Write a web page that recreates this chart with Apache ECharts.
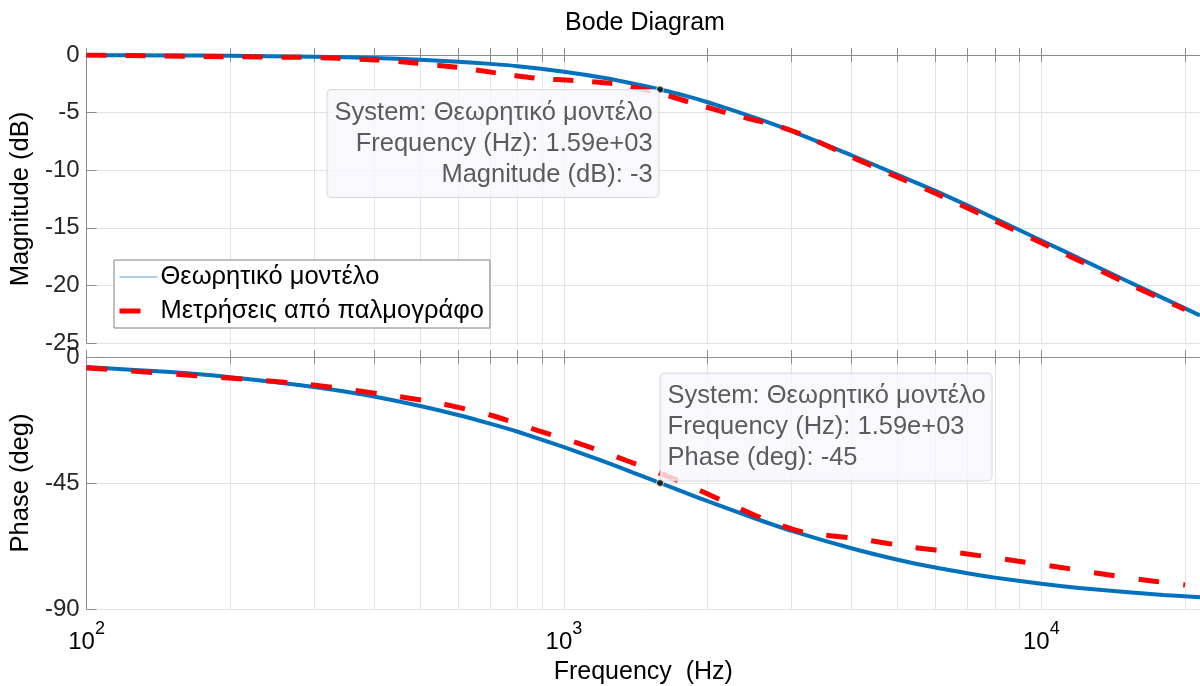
<!DOCTYPE html>
<html>
<head>
<meta charset="utf-8">
<title>Bode Diagram</title>
<script src="https://cdn.jsdelivr.net/npm/echarts@6/dist/echarts.min.js"></script>
<style>
  html, body { margin: 0; padding: 0; background: #fff; }
  #chart { width: 1200px; height: 686px; }
</style>
</head>
<body>
<div id="chart"></div>
<script>
// theoretical model
const freqModel = [100, 150, 200, 300, 400, 500, 600, 700, 800, 1000, 1200, 1400, 1590, 1800, 2000, 2500, 3000, 4000, 5000, 6000, 7000, 8000, 10000, 12000, 15000, 18000, 21500];
const magModel = [-0.02, -0.04, -0.07, -0.15, -0.27, -0.41, -0.58, -0.77, -0.97, -1.45, -1.95, -2.49, -3.0, -3.55, -4.1, -5.41, -6.6, -8.7, -10.4, -11.8, -13.05, -14.2, -16.1, -17.65, -19.55, -21.1, -22.6];
const phaseModel = [-3.6, -5.4, -7.2, -10.7, -14.1, -17.5, -20.7, -23.8, -26.7, -32.2, -37.0, -41.4, -45.0, -48.5, -51.5, -57.5, -62.1, -68.3, -72.4, -75.2, -77.2, -78.8, -81.0, -82.5, -83.9, -85.0, -85.8];

// oscilloscope measurements (red dashed)
const freqMeasMag = [100, 200, 277, 336, 407, 493, 598, 731, 879, 1066, 1292, 1560, 1869, 2265, 2747, 3124, 4000, 5000, 6000, 8000, 10000, 12000, 15000, 20000];
const magMeas = [0, -0.15, -0.2, -0.29, -0.43, -0.72, -1.07, -1.59, -2.03, -2.23, -2.52, -3.24, -4.2, -5.2, -6.05, -6.85, -8.85, -10.6, -12.0, -14.4, -16.3, -17.85, -19.75, -22.1];
const freqMeasPhase = [100, 281, 434, 552, 703, 879, 1101, 1378, 1725, 2142, 2660, 3174, 4203, 5346, 6745, 8530, 10830, 13670, 17240, 20000];
const phaseMeas = [-3.9, -9.5, -13.7, -16.6, -20.8, -26.2, -31.5, -37.5, -44.0, -51.2, -58.3, -62.5, -65.1, -67.9, -70.0, -72.4, -75.0, -77.7, -80.1, -81.4];

// data tip
const tipFreq = 1590;
const tipMag = -3;
const tipPhase = -45;

// axes
const freqMin = 100;
const freqMax = 21500;
const decadeLabels = [100, 1000, 10000];
const freqTicks = [100, 200, 300, 400, 500, 600, 700, 800, 900, 1000, 2000, 3000, 4000, 5000, 6000, 7000, 8000, 9000, 10000, 20000];

const nameModel = 'Θεωρητικό μοντέλο';
const nameMeas = 'Μετρήσεις από παλμογράφο';

const font = 'Liberation Sans, Arial, Helvetica, sans-serif';
const blue = '#0072BD';
const red = '#FF0000';
const axisGray = '#8c8c8c';
const gridGray = '#e4e4e4';
const textColor = '#262626';

function zip(xs, ys) {
  return xs.map((x, i) => [x, ys[i]]);
}

function expLabel(v) {
  // 1590 -> 1.59e+03
  const p = Math.floor(Math.log10(v));
  const m = (v / Math.pow(10, p)).toFixed(2);
  return m + 'e' + (p >= 0 ? '+' : '-') + String(Math.abs(p)).padStart(2, '0');
}

function xAxis(gridIndex, position, labels) {
  return {
    type: 'log',
    logBase: 10,
    gridIndex: gridIndex,
    position: position,
    min: freqMin,
    max: freqMax,
    axisLine: { show: true, lineStyle: { color: axisGray, width: 1 } },
    axisTick: { show: true, inside: true, length: 7, customValues: freqTicks, lineStyle: { color: axisGray } },
    splitLine: { show: position === 'bottom', lineStyle: { color: gridGray, width: 1 } },
    axisLabel: labels ? {
      show: true,
      customValues: decadeLabels,
      margin: 11,
      fontFamily: font,
      formatter: function (v) {
        const p = Math.round(Math.log10(v));
        if (Math.abs(Math.log10(v) - p) > 1e-6) return '';
        return '{b|10}{s|' + p + '}';
      },
      rich: {
        b: { fontSize: 24, fontFamily: font, color: '#000', lineHeight: 34, verticalAlign: 'bottom' },
        s: { fontSize: 18, fontFamily: font, color: '#000', lineHeight: 18, verticalAlign: 'top' }
      }
    } : { show: false },
    name: labels ? 'Frequency  (Hz)' : '',
    nameLocation: 'middle',
    nameGap: 51,
    nameTextStyle: { fontSize: 25, fontFamily: font, color: '#000' }
  };
}

function yAxis(gridIndex, min, max, interval, name) {
  return {
    type: 'value',
    gridIndex: gridIndex,
    min: min,
    max: max,
    interval: interval,
    axisLine: { show: true, lineStyle: { color: axisGray } },
    axisTick: { show: true, inside: true, length: 10, lineStyle: { color: axisGray } },
    splitLine: { show: true, lineStyle: { color: gridGray } },
    axisLabel: { fontSize: 24, fontFamily: font, color: textColor, margin: 7 },
    name: name,
    nameLocation: 'middle',
    nameRotate: 90,
    nameGap: 43,
    nameTextStyle: { fontSize: 25.5, fontFamily: font, color: '#000' }
  };
}

const tipLabel = {
  show: true,
  fontSize: 25.5,
  fontFamily: font,
  color: '#333',
  lineHeight: 31,
  backgroundColor: '#f8f8fc',
  borderColor: '#d2d2d8',
  borderWidth: 1,
  borderRadius: 4,
  padding: [7, 6, 7, 7]
};

const chart = echarts.init(document.getElementById('chart'));

const option = {
  animation: false,
  backgroundColor: '#fff',
  graphic: [{
    type: 'text',
    x: 645,
    y: 11,
    style: { text: 'Bode Diagram', font: '25px ' + font, fill: '#000', textAlign: 'center' }
  }],
  legend: {
    orient: 'vertical',
    left: 114,
    top: 260,
    padding: [4, 6, 4, 3],
    itemWidth: 38,
    itemHeight: 10,
    itemGap: 8,
    backgroundColor: '#fff',
    borderColor: '#808080',
    borderWidth: 1,
    itemStyle: { opacity: 0 },
    textStyle: { fontSize: 25.5, fontFamily: font, color: '#000', lineHeight: 26, padding: [0, 0, 0, -2] },
    data: [
      { name: nameModel, itemStyle: { opacity: 0 }, lineStyle: { width: 1, color: '#5d9fd3' } },
      { name: nameMeas, itemStyle: { opacity: 0 }, lineStyle: { width: 5, type: [21, 40] } }
    ]
  },
  grid: [
    { left: 85, right: -1, top: 55, height: 288 },
    { left: 85, right: -1, top: 357, height: 252 }
  ],
  xAxis: [
    xAxis(0, 'bottom', false),
    xAxis(0, 'top', false),
    xAxis(1, 'bottom', true),
    xAxis(1, 'top', false)
  ],
  yAxis: [
    yAxis(0, -25, 0, 5, 'Magnitude (dB)'),
    yAxis(1, -90, 0, 45, 'Phase (deg)')
  ],
  series: [
    {
      name: nameModel, type: 'line', xAxisIndex: 0, yAxisIndex: 0,
      data: zip(freqModel, magModel), symbol: 'none', smooth: 0.2,
      lineStyle: { color: blue, width: 4 }, itemStyle: { color: blue }, z: 2
    },
    {
      name: nameMeas, type: 'line', xAxisIndex: 0, yAxisIndex: 0,
      data: zip(freqMeasMag, magMeas), symbol: 'none', smooth: 0.2,
      lineStyle: { color: red, width: 5, type: [20, 19] }, itemStyle: { color: red }, z: 3
    },
    {
      name: nameModel, type: 'line', xAxisIndex: 2, yAxisIndex: 1,
      data: zip(freqModel, phaseModel), symbol: 'none', smooth: 0.2,
      lineStyle: { color: blue, width: 4 }, itemStyle: { color: blue }, z: 2
    },
    {
      name: nameMeas, type: 'line', xAxisIndex: 2, yAxisIndex: 1,
      data: zip(freqMeasPhase, phaseMeas), symbol: 'none', smooth: 0.2,
      lineStyle: { color: red, width: 5, type: [21, 24] }, itemStyle: { color: red }, z: 3
    },
    {
      type: 'scatter', xAxisIndex: 0, yAxisIndex: 0, silent: true, z: 10,
      data: [[tipFreq, tipMag]], symbolSize: 7,
      itemStyle: { color: '#111', borderColor: '#f0f0b8', borderWidth: 1 },
      label: Object.assign({}, tipLabel, {
        position: [3.5, 3.5], align: 'right', verticalAlign: 'top', offset: [-1, 1],
        formatter: 'System: ' + nameModel + '\nFrequency (Hz): ' + expLabel(tipFreq) + '\nMagnitude (dB): ' + tipMag
      })
    },
    {
      type: 'scatter', xAxisIndex: 2, yAxisIndex: 1, silent: true, z: 10,
      data: [[tipFreq, tipPhase]], symbolSize: 7,
      itemStyle: { color: '#111', borderColor: '#f0f0b8', borderWidth: 1 },
      label: Object.assign({}, tipLabel, {
        position: [3.5, 3.5], align: 'left', verticalAlign: 'bottom', offset: [1, -2],
        formatter: 'System: ' + nameModel + '\nFrequency (Hz): ' + expLabel(tipFreq) + '\nPhase (deg): ' + tipPhase
      })
    }
  ]
};

chart.setOption(option);
</script>
</body>
</html>
